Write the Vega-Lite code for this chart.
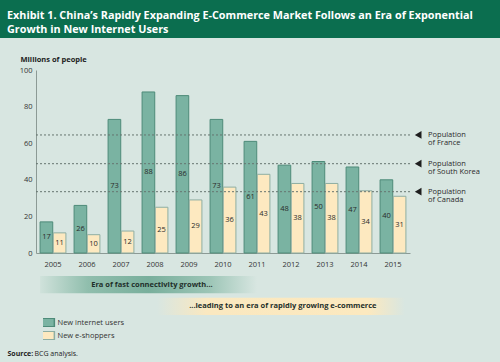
{
  "$schema": "https://vega.github.io/schema/vega-lite/v6.json",
  "width": 500,
  "height": 324,
  "autosize": {"type": "none"},
  "padding": {"top": 38, "left": 0, "right": 0, "bottom": 0},
  "background": "#0b6e4f",
  "config": {
    "font": "Open Sans",
    "view": {"fill": "#d8e6e1", "stroke": null},
    "axis": {"grid": false}
  },
  "title": {
    "text": ["Exhibit 1. China’s Rapidly Expanding E-Commerce Market Follows an Era of Exponential", "Growth in New Internet Users"],
    "anchor": "start", "frame": "group", "orient": "top",
    "offset": -5.5, "baseline": "alphabetic", "dx": 7,
    "color": "#ffffff", "fontSize": 10.8, "fontWeight": "bold", "lineHeight": 13.7, "font": "Open Sans"
  },
  "datasets": {
    "bars": [
      {"year": "2005", "series": "New internet users", "value": 17},
      {"year": "2006", "series": "New internet users", "value": 26},
      {"year": "2007", "series": "New internet users", "value": 73},
      {"year": "2008", "series": "New internet users", "value": 88},
      {"year": "2009", "series": "New internet users", "value": 86},
      {"year": "2010", "series": "New internet users", "value": 73},
      {"year": "2011", "series": "New internet users", "value": 61},
      {"year": "2012", "series": "New internet users", "value": 48},
      {"year": "2013", "series": "New internet users", "value": 50},
      {"year": "2014", "series": "New internet users", "value": 47},
      {"year": "2015", "series": "New internet users", "value": 40},
      {"year": "2005", "series": "New e-shoppers", "value": 11},
      {"year": "2006", "series": "New e-shoppers", "value": 10},
      {"year": "2007", "series": "New e-shoppers", "value": 12},
      {"year": "2008", "series": "New e-shoppers", "value": 25},
      {"year": "2009", "series": "New e-shoppers", "value": 29},
      {"year": "2010", "series": "New e-shoppers", "value": 36},
      {"year": "2011", "series": "New e-shoppers", "value": 43},
      {"year": "2012", "series": "New e-shoppers", "value": 38},
      {"year": "2013", "series": "New e-shoppers", "value": 38},
      {"year": "2014", "series": "New e-shoppers", "value": 34},
      {"year": "2015", "series": "New e-shoppers", "value": 31}
    ],
    "pops": [
      {"country": "France", "value": 64.5, "label": "Population\nof France"},
      {"country": "South Korea", "value": 48.8, "label": "Population\nof South Korea"},
      {"country": "Canada", "value": 33.5, "label": "Population\nof Canada"}
    ],
    "eras": [
      {"era": "fast", "from": 2004.62, "to": 2011.0, "mid": 2007.91, "label": "Era of fast connectivity growth..."},
      {"era": "ecom", "from": 2008.06, "to": 2015.35, "mid": 2011.76, "label": "...leading to an era of rapidly growing e-commerce"}
    ]
  },
  "layer": [
    {
      "data": {"name": "bars"},
      "layer": [
        {
          "mark": {"type": "bar", "strokeWidth": 1},
          "encoding": {
            "x": {
              "field": "year", "type": "nominal",
              "scale": {"range": [36, 410], "paddingInner": 0.24, "paddingOuter": 0.12},
              "axis": {"orient": "bottom", "offset": -109, "title": null, "ticks": false, "labelAngle": 0, "labelPadding": 7, "labelFontSize": 7.5, "labelColor": "#333333", "domainColor": "#8c9a95", "domainWidth": 1}
            },
            "xOffset": {"field": "series", "type": "nominal", "scale": {"domain": ["New internet users", "New e-shoppers"], "paddingInner": 0.04}},
            "y": {
              "field": "value", "type": "quantitative",
              "scale": {"domain": [0, 100], "range": [215, 32]},
              "axis": {"orient": "left", "offset": -36, "values": [0, 20, 40, 60, 80, 100], "ticks": false, "labelPadding": 4, "labelFontSize": 7.5, "labelColor": "#333333", "domainColor": "#8c9a95", "title": "Millions of people", "titleAngle": 0, "titleAlign": "left", "titleBaseline": "middle", "titleX": -16, "titleY": 21, "titleFontSize": 7.5, "titleFontWeight": "bold", "titleColor": "#222222"}
            },
            "fill": {
              "field": "series", "type": "nominal",
              "scale": {"domain": ["New internet users", "New e-shoppers"], "range": ["#7ab3a2", "#fde9c0"]},
              "legend": {"orient": "none", "legendX": 43, "legendY": 280, "title": null, "direction": "vertical", "symbolType": "M-1.5,-1L1.5,-1L1.5,1L-1.5,1Z", "symbolSize": 72, "labelFontSize": 7.5, "labelColor": "#333333", "rowPadding": 4, "clipHeight": 9, "labelOffset": 4.5, "padding": 0}
            },
            "stroke": {
              "field": "series", "type": "nominal",
              "scale": {"domain": ["New internet users", "New e-shoppers"], "range": ["#4e8b79", "#8eaea3"]},
              "legend": {"orient": "none", "legendX": 43, "legendY": 280, "title": null, "direction": "vertical", "symbolType": "M-1.5,-1L1.5,-1L1.5,1L-1.5,1Z", "symbolSize": 72, "labelFontSize": 7.5, "labelColor": "#333333", "rowPadding": 4, "clipHeight": 9, "labelOffset": 4.5, "padding": 0}
            }
          }
        },
        {
          "transform": [{"calculate": "datum.value / 2", "as": "mid"}],
          "mark": {"type": "text", "fontSize": 7.5, "color": "#2a2a2a"},
          "encoding": {
            "x": {"field": "year", "type": "nominal"},
            "xOffset": {"field": "series", "type": "nominal"},
            "y": {"field": "mid", "type": "quantitative"},
            "text": {"field": "value", "type": "quantitative"}
          }
        }
      ]
    },
    {
      "data": {"name": "eras"},
      "layer": [
        {
          "transform": [{"filter": "datum.era == 'fast'"}],
          "mark": {"type": "rect", "fill": {"gradient": "linear", "x1": 0, "x2": 1, "y1": 0, "y2": 0, "stops": [{"offset": 0, "color": "#d0e2db"}, {"offset": 0.22, "color": "#90bead"}, {"offset": 0.5, "color": "#79af9c"}, {"offset": 0.78, "color": "#9cc5b6"}, {"offset": 1, "color": "#d8e6e1"}]}},
          "encoding": {
            "x": {"field": "from", "type": "quantitative", "scale": {"domain": [2004.5, 2015.5], "range": [36, 410]},
              "axis": {"orient": "bottom", "domain": false, "ticks": false, "labels": false, "title": "Source:", "titleX": 7, "titleY": -9, "titleAlign": "left", "titleBaseline": "middle", "titleFontSize": 7, "titleFontWeight": "bold", "titleColor": "#222222"}},
            "x2": {"field": "to"},
            "y": {"field": "era", "type": "nominal", "scale": {"domain": ["fast", "ecom"], "range": [238, 277], "paddingInner": 0.2, "paddingOuter": 0}, "axis": null}
          }
        },
        {
          "transform": [{"filter": "datum.era == 'ecom'"}],
          "mark": {"type": "rect", "fill": {"gradient": "linear", "x1": 0, "x2": 1, "y1": 0, "y2": 0, "stops": [{"offset": 0, "color": "#d8e6e1"}, {"offset": 0.2, "color": "#fae8c0"}, {"offset": 0.85, "color": "#fce9bf"}, {"offset": 1, "color": "#d8e6e1"}]}},
          "encoding": {
            "x": {"field": "from", "type": "quantitative", "scale": {"domain": [2004.5, 2015.5], "range": [36, 410]}},
            "x2": {"field": "to"},
            "y": {"field": "era", "type": "nominal"}
          }
        },
        {
          "mark": {"type": "text", "fontSize": 7.5, "fontWeight": "bold", "color": "#1f2f2a"},
          "encoding": {
            "x": {"field": "mid", "type": "quantitative", "scale": {"domain": [2004.5, 2015.5], "range": [36, 410]}},
            "y": {"field": "era", "type": "nominal"},
            "text": {"field": "label"}
          }
        }
      ]
    },
    {
      "data": {"name": "pops"},
      "layer": [
        {
          "mark": {"type": "rule", "strokeDash": [2, 2], "color": "#66746f", "strokeWidth": 1},
          "encoding": {
            "x": {"datum": 2004.5, "type": "quantitative", "scale": {"domain": [2004.5, 2015.5], "range": [36, 410]},
              "axis": {"orient": "bottom", "domain": false, "ticks": false, "labels": false, "title": "BCG analysis.", "titleX": 34, "titleY": -9, "titleAlign": "left", "titleBaseline": "middle", "titleFontSize": 7, "titleFontWeight": "normal", "titleColor": "#222222"}},
            "x2": {"datum": 2015.56},
            "y": {"field": "value", "type": "quantitative", "scale": {"domain": [0, 100], "range": [215, 32]}, "axis": null}
          }
        },
        {
          "mark": {"type": "point", "shape": "triangle-left", "filled": true, "color": "#1e1e1e", "size": 60, "opacity": 1},
          "encoding": {
            "x": {"datum": 2015.74, "type": "quantitative", "scale": {"domain": [2004.5, 2015.5], "range": [36, 410]}},
            "y": {"field": "value", "type": "quantitative", "scale": {"domain": [0, 100], "range": [215, 32]}}
          }
        },
        {
          "mark": {"type": "text", "align": "left", "baseline": "middle", "fontSize": 7.5, "lineBreak": "\n", "lineHeight": 8.5, "color": "#2b2b2b"},
          "encoding": {
            "x": {"datum": 2016.03, "type": "quantitative", "scale": {"domain": [2004.5, 2015.5], "range": [36, 410]}},
            "y": {"field": "value", "type": "quantitative", "scale": {"domain": [0, 100], "range": [215, 32]}},
            "text": {"field": "label"}
          }
        }
      ]
    }
  ],
  "resolve": {"scale": {"x": "independent", "y": "independent"}, "axis": {"x": "independent", "y": "independent"}}
}
